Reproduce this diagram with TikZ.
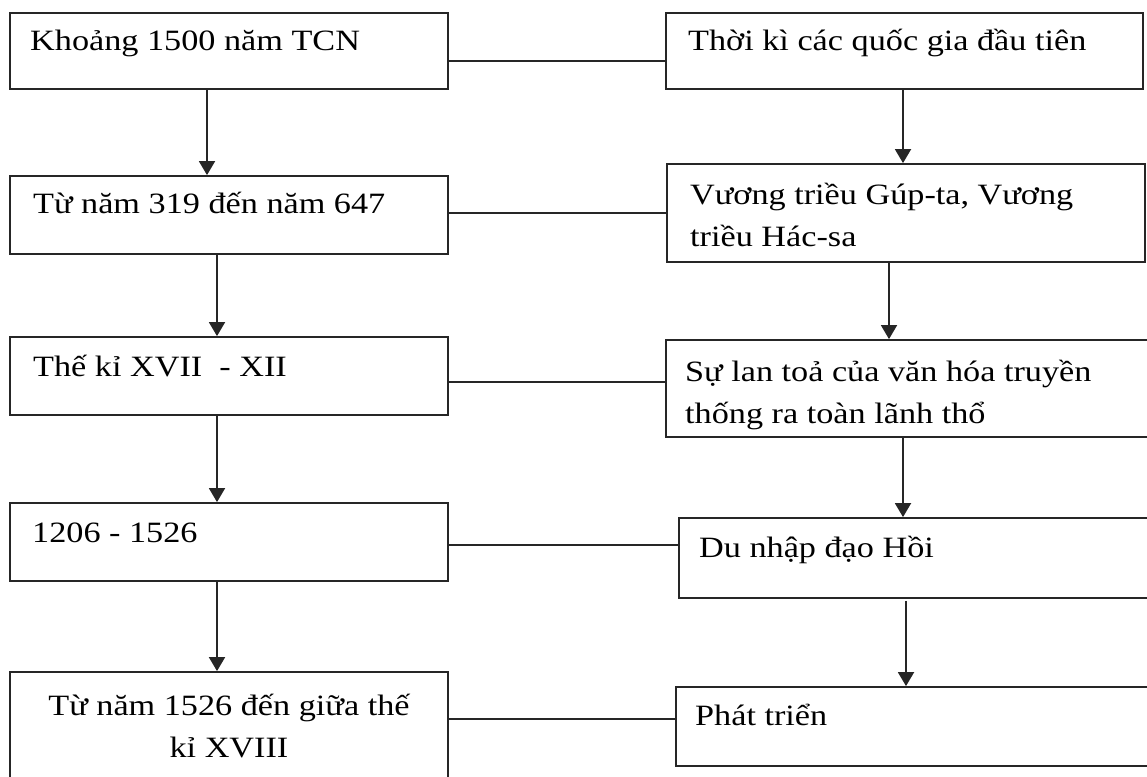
\documentclass[tikz,border=0pt]{standalone}
\usepackage{fontspec}
\setmainfont{Liberation Serif}[FakeStretch=1.16]
\usetikzlibrary{arrows.meta}
\begin{document}
\begin{tikzpicture}[x=1pt,y=-1pt,
  box/.style={draw=black!85,line width=1.8pt,rectangle,inner sep=0pt,fill=none},
  txt/.style={inner sep=0pt,anchor=base west,font=\fontsize{29.5pt}{42pt}\selectfont,align=left,text=black},
  arr/.style={draw=black!85,line width=1.8pt,-{Triangle[width=16pt,length=14pt]}},
  link/.style={draw=black!85,line width=1.8pt}]
\clip (0,0) rectangle (1147,776);
\fill[white] (0,0) rectangle (1147,776);
% left column
\node[box,minimum width=438pt,minimum height=76pt] (L1) at (229,51) {};
\node[box,minimum width=438pt,minimum height=78pt] (L2) at (229,215) {};
\node[box,minimum width=438pt,minimum height=78pt] (L3) at (229,376) {};
\node[box,minimum width=438pt,minimum height=78pt] (L4) at (229,542) {};
\node[box,minimum width=438pt,minimum height=108pt] (L5) at (229,726) {};
% right column
\node[box,minimum width=477pt,minimum height=76pt] (R1) at (904.5,51) {};
\node[box,minimum width=478pt,minimum height=98pt] (R2) at (906,213) {};
\node[box,minimum width=489pt,minimum height=97pt] (R3) at (910.5,388.5) {};
\node[box,minimum width=476pt,minimum height=80pt] (R4) at (917,558) {};
\node[box,minimum width=479pt,minimum height=79pt] (R5) at (915.5,726.5) {};
% texts
\node[txt] (tL1) at (30,51) {Khoảng 1500 năm TCN};
\node[txt] (tL2) at (33,213) {Từ năm 319 đến năm 647};
\node[txt] (tL3) at (33,376) {Thế kỉ XVII\ \ - XII};
\node[txt] (tL4) at (32,542) {1206 - 1526};
\node[txt,anchor=north,align=center] (tL5) at (229,694) {Từ năm 1526 đến giữa thế\\ kỉ XVIII};
\node[txt] (tR1) at (688,50) {Thời kì các quốc gia đầu tiên};
\node[txt,anchor=north west] (tR2) at (690,183) {Vương triều Gúp-ta, Vương\\triều Hác-sa};
\node[txt,anchor=north west] (tR3) at (685,360) {Sự lan toả của văn hóa truyền\\thống ra toàn lãnh thổ};
\node[txt] (tR4) at (699,557) {Du nhập đạo Hồi};
\node[txt] (tR5) at (695,725) {Phát triển};
% vertical arrows
\draw[arr] (L1.south -| 207,0) -- (L2.north -| 207,0);
\draw[arr] (L2.south -| 217,0) -- (L3.north -| 217,0);
\draw[arr] (L3.south -| 217,0) -- (L4.north -| 217,0);
\draw[arr] (L4.south -| 217,0) -- (L5.north -| 217,0);
\draw[arr] (R1.south -| 903,0) -- (R2.north -| 903,0);
\draw[arr] (R2.south -| 889,0) -- (R3.north -| 889,0);
\draw[arr] (R3.south -| 903,0) -- (R4.north -| 903,0);
\draw[arr] ([yshift=-2pt]R4.south -| 906,0) -- (R5.north -| 906,0);
% horizontal links
\draw[link] (L1.east |- 0,61) -- (R1.west |- 0,61);
\draw[link] (L2.east |- 0,213) -- (R2.west |- 0,213);
\draw[link] (L3.east |- 0,382) -- (R3.west |- 0,382);
\draw[link] (L4.east |- 0,545) -- (R4.west |- 0,545);
\draw[link] (L5.east |- 0,719) -- (R5.west |- 0,719);
\end{tikzpicture}
\end{document}
